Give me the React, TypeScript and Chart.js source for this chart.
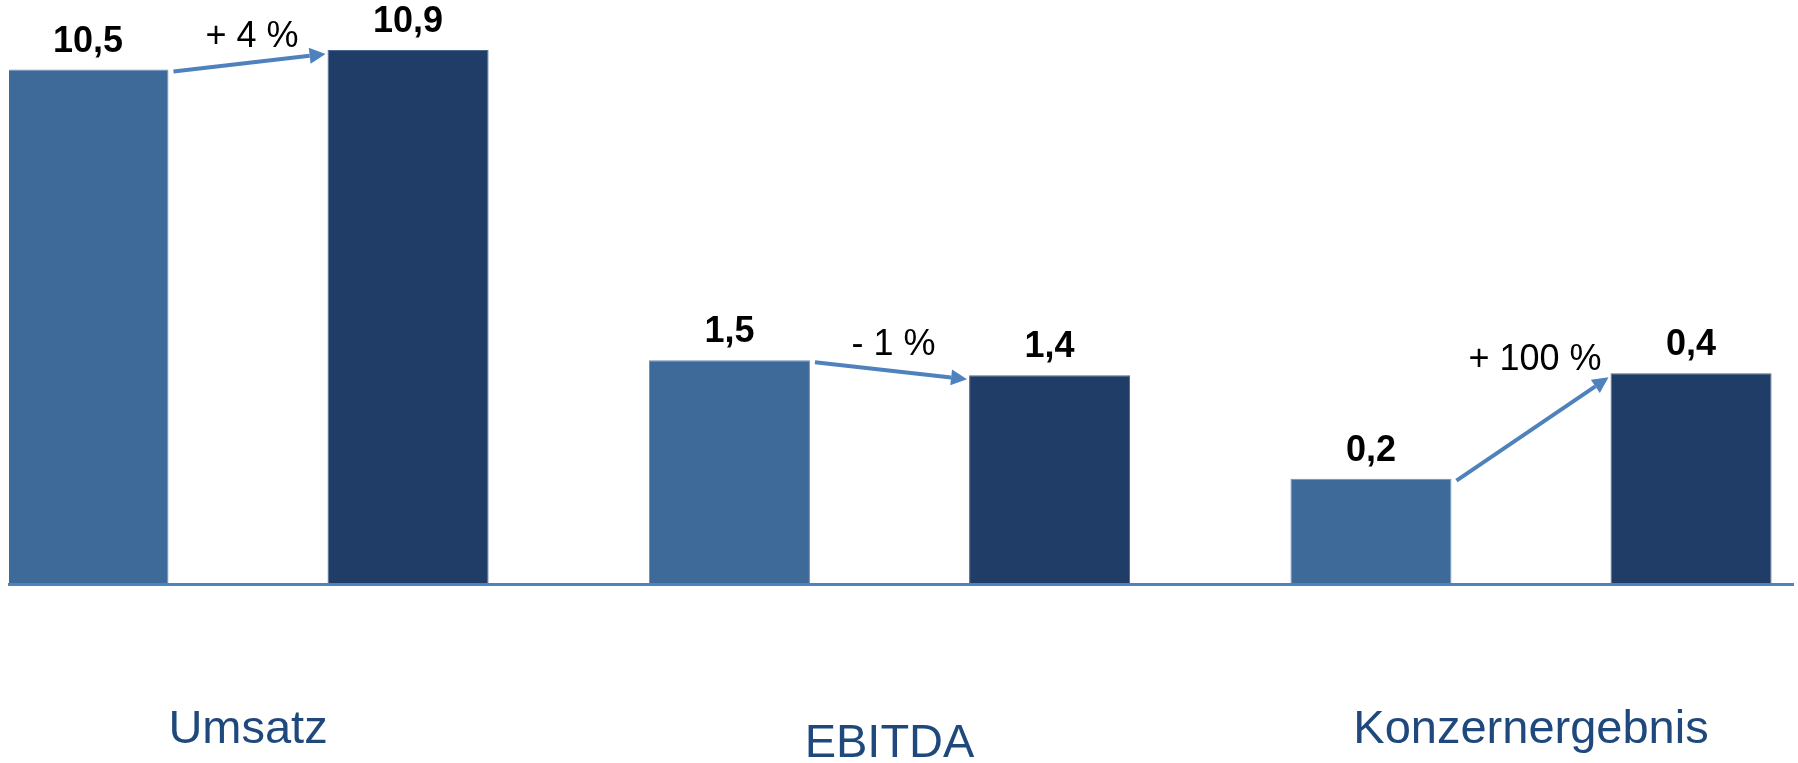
import React, { useEffect, useRef } from 'react';
import { Chart, registerables } from 'chart.js';

Chart.register(...registerables);

// ---- data ----
const categories = ['Umsatz', 'EBITDA', 'Konzernergebnis'];
const seriesNames = ['Vorjahr', 'Berichtsjahr'];
const previousValues = [10.5, 1.5, 0.2];
const currentValues = [10.9, 1.4, 0.4];
const changePercents = [4, -1, 100];

// ---- styles ----
const FONT = "'Liberation Sans', Arial, sans-serif";
const BAR_COLORS = ['#3E6A9A', '#1F3D66'];
const BAR_BORDERS = ['#6D90BC', '#4A6890'];
const ARROW_COLOR = '#4F81BD';
const CATEGORY_COLOR = '#1F497D';
// each category has its own (hidden) value axis
const CATEGORY_AXIS_MAX = [11.92, 3.915, 1.109];

const series = [previousValues, currentValues];
const fmtValue = (v: number) => v.toFixed(1).replace('.', ',');
const fmtChange = (p: number) => `${p >= 0 ? '+' : '-'} ${Math.abs(p)} %`;

const annotatePlugin = {
  id: 'annotate',
  afterDatasetsDraw(chart: any) {
    const ctx = chart.ctx as CanvasRenderingContext2D;
    ctx.save();
    // value labels above bars
    ctx.font = `bold 36px ${FONT}`;
    ctx.fillStyle = '#000000';
    ctx.textAlign = 'center';
    ctx.textBaseline = 'alphabetic';
    categories.forEach((_, c) => {
      series.forEach((vals, s) => {
        const el = chart.getDatasetMeta(2 * c + s).data[c];
        if (!el) return;
        const p = el.getProps(['x', 'y'], true);
        ctx.fillText(fmtValue(vals[c]), p.x, p.y - 18);
      });
    });
    // change arrows with percentage
    categories.forEach((_, c) => {
      const ea = chart.getDatasetMeta(2 * c).data[c];
      const eb = chart.getDatasetMeta(2 * c + 1).data[c];
      if (!ea || !eb) return;
      const a = ea.getProps(['x', 'y', 'width'], true);
      const b = eb.getProps(['x', 'y', 'width'], true);
      const aRight = a.x + a.width / 2;
      const bLeft = b.x - b.width / 2;
      const x1 = aRight + 5;
      const y1 = a.y + 2;
      const x2 = bLeft - 2;
      const y2 = b.y + 4;
      const ang = Math.atan2(y2 - y1, x2 - x1);
      const headLen = 16;
      const headW = 8;
      const bx = x2 - headLen * Math.cos(ang);
      const by = y2 - headLen * Math.sin(ang);
      ctx.strokeStyle = ARROW_COLOR;
      ctx.fillStyle = ARROW_COLOR;
      ctx.lineWidth = 4;
      ctx.lineCap = 'butt';
      ctx.beginPath();
      ctx.moveTo(x1, y1);
      ctx.lineTo(bx, by);
      ctx.stroke();
      ctx.beginPath();
      ctx.moveTo(x2, y2);
      ctx.lineTo(bx + headW * Math.sin(ang), by - headW * Math.cos(ang));
      ctx.lineTo(bx - headW * Math.sin(ang), by + headW * Math.cos(ang));
      ctx.closePath();
      ctx.fill();

      ctx.font = `36px ${FONT}`;
      ctx.fillStyle = '#000000';
      ctx.textAlign = 'center';
      ctx.textBaseline = 'alphabetic';
      ctx.fillText(fmtChange(changePercents[c]), (aRight + bLeft) / 2 + 4, Math.min(y1, y2) - 7);
    });
    ctx.restore();
  },
};

export default function App() {
  const canvasRef = useRef<HTMLCanvasElement | null>(null);

  useEffect(() => {
    if (!canvasRef.current) return;
    Chart.defaults.font.family = FONT;

    const datasets: any[] = [];
    categories.forEach((cat, c) => {
      series.forEach((vals, s) => {
        datasets.push({
          label: `${cat} ${seriesNames[s]}`,
          data: categories.map((_, i) => ({ x: i, y: i === c ? vals[c] : null })),
          yAxisID: `y${c}`,
          backgroundColor: BAR_COLORS[s],
          borderColor: BAR_BORDERS[s],
          borderWidth: 1,
          categoryPercentage: 0.998,
          barPercentage: 0.503,
          skipNull: true,
        });
      });
    });

    const yScales: any = {};
    categories.forEach((_, c) => {
      yScales[`y${c}`] = {
        type: 'linear',
        axis: 'y',
        position: 'left',
        display: false,
        bounds: 'data',
        min: 0,
        max: CATEGORY_AXIS_MAX[c],
      };
    });

    const chart = new Chart(canvasRef.current, {
      type: 'bar',
      data: { datasets },
      options: {
        animation: false,
        responsive: true,
        maintainAspectRatio: false,
        layout: { padding: { left: 9, right: 5, top: 0, bottom: 0 } },
        plugins: {
          legend: { display: false },
          tooltip: { enabled: false },
          title: { display: false },
        },
        scales: {
          x: {
            type: 'linear',
            position: 'bottom',
            bounds: 'data',
            min: -0.3726,
            max: 2.4084,
            offset: false,
            grid: { display: false, drawTicks: false, tickLength: 0 },
            border: { display: true, color: ARROW_COLOR, width: 3, z: 1 },
            afterBuildTicks: (scale: any) => {
              scale.ticks = categories.map((_, i) => ({ value: i }));
            },
            afterFit: (scale: any) => {
              scale.height = 179;
              scale.paddingLeft = 0;
              scale.paddingRight = 0;
            },
            ticks: {
              autoSkip: false,
              maxRotation: 0,
              minRotation: 0,
              padding: 118,
              color: CATEGORY_COLOR,
              font: (ctx: any) => ({
                family: FONT,
                size: 47,
                lineHeight: ctx.index === 1 ? 1.775 : 1.18,
              }),
              callback: (v: any) => categories[v as number] ?? '',
            },
          },
          ...yScales,
        },
      } as any,
      plugins: [annotatePlugin],
    });

    return () => chart.destroy();
  }, []);

  return (
    <div style={{ position: 'absolute', left: 0, top: 0, width: 1798, height: 763, background: '#ffffff' }}>
      <canvas ref={canvasRef} />
    </div>
  );
}
